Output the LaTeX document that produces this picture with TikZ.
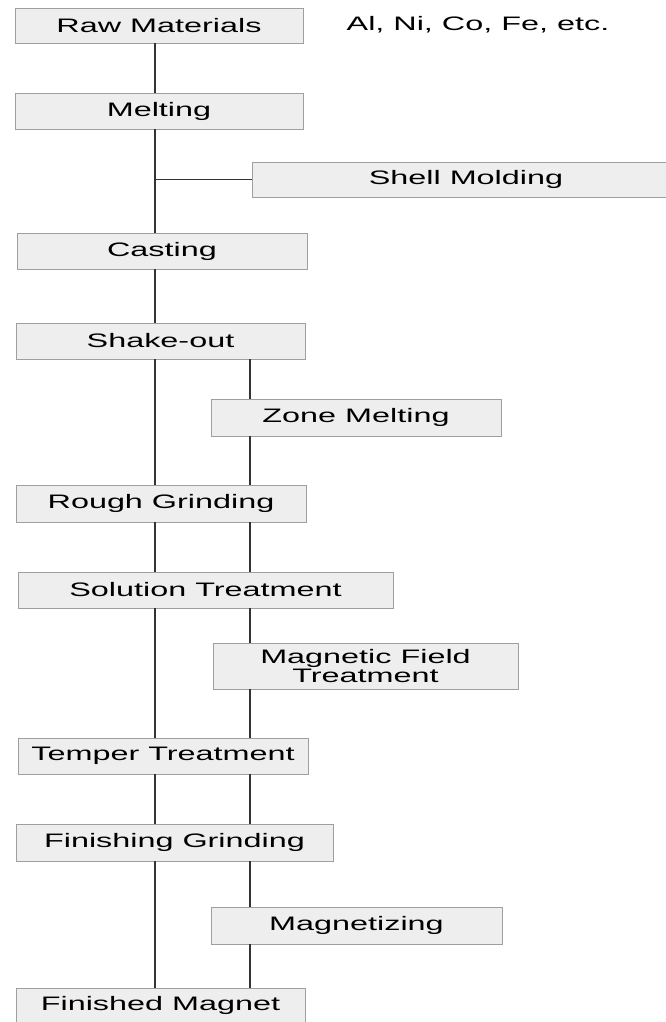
\documentclass[tikz,border=0pt]{standalone}
\usepackage{fontspec}
\setmainfont{Liberation Sans}[FakeStretch=1.66]
\begin{document}
\begin{tikzpicture}[x=1pt, y=-1pt,
  stage/.style={draw=gray!75, fill=gray!13, line width=0.8pt, inner sep=0pt,
    minimum height=36pt, align=center, font=\fontsize{19.5}{16}\selectfont},
  flow/.style={line width=1.6pt, black!80}]
\useasboundingbox (0,0) rectangle (665,1022);
\coordinate (left) at (155,0);
\coordinate (right) at (250,0);
% main column
\node[stage, minimum width=288pt, minimum height=35pt] (raw) at (159,25.5) {Raw Materials};
\node[font=\fontsize{19.5}{16}\selectfont] (elements) at (478,25) {Al, Ni, Co, Fe, etc.};
\node[stage, minimum width=288pt] (melt) at (159,111) {Melting};
\node[stage, minimum width=428pt, minimum height=35pt] (shell) at (466,179.5) {Shell Molding};
\node[stage, minimum width=290pt] (casting) at (162,251) {Casting};
\node[stage, minimum width=289pt] (shake) at (160.5,341) {Shake-out};
\node[stage, minimum width=290pt, minimum height=37pt] (zone) at (356,417.5) {Zone Melting};
\node[stage, minimum width=290pt, minimum height=37pt] (rough) at (161,503.5) {Rough Grinding};
\node[stage, minimum width=375pt] (solution) at (205.5,590) {Solution Treatment};
\node[stage, minimum width=305pt, minimum height=46pt] (field) at (365.5,666) {Magnetic Field\\Treatment};
\node[stage, minimum width=290pt] (temper) at (163,756) {Temper Treatment};
\node[stage, minimum width=317pt, minimum height=37pt] (finishing) at (174.5,842.5) {Finishing Grinding};
\node[stage, minimum width=291pt, minimum height=37pt] (magnetizing) at (356.5,925.5) {Magnetizing};
\node[stage, minimum width=289pt, minimum height=34pt] (magnet) at (160.5,1005) {Finished Magnet};
% left line
\foreach \a/\b in {raw/melt, melt/casting, casting/shake, shake/rough, rough/solution,
    solution/temper, temper/finishing, finishing/magnet}
  \draw[flow] (\a.south -| left) -- (\b.north -| left);
\draw[flow] (left |- shell.west) -- (shell.west);
% right line
\foreach \a/\b in {shake/zone, zone/rough, rough/solution, solution/field, field/temper,
    temper/finishing, finishing/magnetizing, magnetizing/magnet}
  \draw[flow] (\a.south -| right) -- (\b.north -| right);
\end{tikzpicture}
\end{document}
